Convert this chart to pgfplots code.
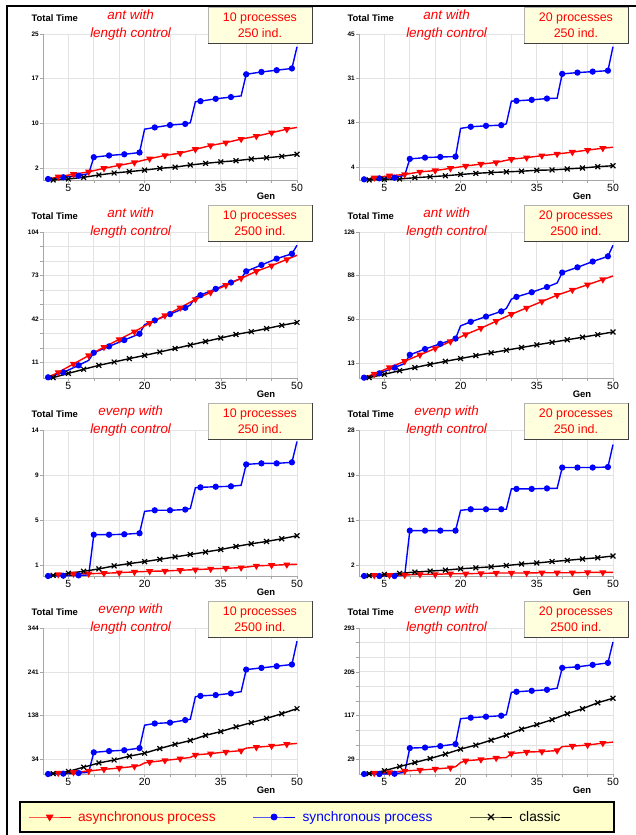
\documentclass[border=0pt]{standalone}
\usepackage{pgfplots}
\pgfplotsset{compat=1.18}
\usepackage{fontspec}
\setmainfont{Liberation Sans}
\definecolor{boxy}{RGB}{255,255,221}
\definecolor{legy}{RGB}{255,255,204}
\definecolor{pblue}{RGB}{0,0,255}
\definecolor{pred}{RGB}{255,0,0}
\pgfplotsset{
 panel/.style={
  scale only axis, width=254bp, height=146bp,
  xmin=0, xmax=50, ymin=0,
  axis lines*=left, axis line style={draw=gray!70, line width=0.8bp},
  xtick={5,20,35,50}, xticklabels={5,20,35,50},
  minor xtick={10,15,25,30,40,45},
  minor y tick num=2,
  grid=both,
  major grid style={draw=gray!22, line width=0.7bp},
  minor grid style={draw=gray!22, line width=0.7bp},
  tick align=outside, major tick length=3bp, minor tick length=3bp,
  tick style={draw=gray!70, line width=0.6bp},
  xticklabel style={font=\fontsize{10.5}{12}\selectfont, inner sep=1bp},
  yticklabel style={font=\fontsize{6.5}{7}\selectfont\bfseries, inner sep=1bp},
  clip=false,
 },
 sync/.style={pblue, line width=1.4bp, mark=*, mark size=2.4bp, mark options={solid}},
 async/.style={pred, line width=1.4bp, mark=triangle*, mark size=2.8bp, mark options={solid, rotate=180}},
 classic/.style={black, line width=1.4bp, mark=x, mark size=3.4bp, mark options={solid, line width=1.2bp}},
 syncm/.style={mark indices={1,2,3,5,6,7,8,10,11,12,15,16,17,19,20,21,22}},
 asyncm/.style={mark indices={2,3,4,5,6,7,8,9,10,11,12,13,14,15,16,17}},
 asynccm/.style={mark indices={2,3,4,5,6,7,10,11,12,14,15,16,17,19,20,21}},
 classicm/.style={mark indices={2,3,4,5,6,7,8,9,10,11,12,13,14,15,16,17,18}},
}
\newcommand{\decor}[3]{%
 \node[font=\fontsize{9.5}{11}\selectfont\bfseries, anchor=west] at (rel axis cs:-0.059,1.112) {Total Time};
 \node[font=\fontsize{13.5}{18}\selectfont\itshape, text=pred, align=center] at (rel axis cs:0.345,1.062) {#1 with\\length control};
 \node[fill=boxy, draw=gray!60, minimum width=104bp, minimum height=36bp, inner sep=0pt] (bx) at (rel axis cs:0.854,1.061) {};
 \draw[gray!50!black, line width=1bp] (bx.north east) -- (bx.south east) -- (bx.south west);
 \node[font=\fontsize{12.5}{16}\selectfont, text=pred, align=center] at (bx.center) {#2 processes\\#3 ind.};
 \node[font=\fontsize{9.5}{11}\selectfont\bfseries] at (rel axis cs:0.878,-0.11) {Gen};
}
\begin{document}
\begin{tikzpicture}
\useasboundingbox (0,0) rectangle (636bp,835bp);
\fill[white] (0,0) rectangle (636bp,835bp);

% ---------- Row 1, left: ant, 10 processes, 250 ind.
\begin{axis}[panel, at={(43bp,655bp)}, anchor=south west, ymax=25,
  ytick={2,9.667,17.333,25}, yticklabels={2,10,17,25}]
\addplot[sync, syncm] coordinates {(1,0.17)(4,0.46)(7,0.74)(9,1.1)(10,3.9)(13,4.2)(16,4.4)(19,4.7)(20,8.7)(22,9.0)(25,9.4)(28,9.6)(29,9.8)(30,13.4)(31,13.5)(34,13.9)(37,14.2)(39,14.4)(40,18.1)(43,18.5)(46,18.8)(49,19.1)(50,22.8)};
\addplot[async, asyncm] coordinates {(1,0.1)(3,0.57)(6,0.97)(9,1.4)(12,2.0)(15,2.5)(18,3.0)(21,3.65)(24,4.2)(27,4.6)(30,5.25)(33,5.9)(36,6.4)(39,7.0)(42,7.5)(45,8.1)(48,8.7)(50,9.0)};
\addplot[classic, classicm] coordinates {(1,0)(2,0)(5,0.17)(8,0.46)(11,0.86)(14,1.2)(17,1.43)(20,1.7)(23,2.0)(26,2.2)(29,2.57)(32,2.85)(35,3.1)(38,3.3)(41,3.6)(44,3.8)(47,4.05)(50,4.4)};
\decor{ant}{10}{250}
\end{axis}

% ---------- Row 1, right: ant, 20 processes, 250 ind.
\begin{axis}[panel, at={(359bp,655bp)}, anchor=south west, ymax=45,
  ytick={4,17.667,31.333,45}, yticklabels={4,18,31,45}]
\addplot[sync, syncm] coordinates {(1,0.2)(4,0.5)(7,0.7)(9,1.5)(10,6.5)(13,6.9)(16,7.1)(19,7.2)(20,15.9)(22,16.4)(25,16.7)(28,16.9)(29,17.3)(30,24.3)(31,24.4)(34,24.7)(37,25.1)(39,25.2)(40,32.7)(43,33.1)(46,33.4)(49,33.7)(50,41.1)};
\addplot[async, asyncm] coordinates {(1,0.1)(3,0.7)(6,1.3)(9,1.7)(12,2.5)(15,2.9)(18,3.6)(21,4.3)(24,4.9)(27,5.4)(30,6.4)(33,6.9)(36,7.5)(39,8.0)(42,8.6)(45,9.2)(48,9.8)(50,10.1)};
\addplot[classic, classicm] coordinates {(1,0.1)(2,0)(5,0.2)(8,0.3)(11,0.7)(14,1.0)(17,1.3)(20,1.7)(23,2.05)(26,2.3)(29,2.5)(32,2.7)(35,3.0)(38,3.1)(41,3.4)(44,3.7)(47,4.1)(50,4.4)};
\decor{ant}{20}{250}
\end{axis}

% ---------- Row 2, left: ant, 10 processes, 2500 ind.
\begin{axis}[panel, at={(43bp,457bp)}, anchor=south west, ymax=104,
  ytick={11,42,73,104}, yticklabels={11,42,73,104}]
\addplot[sync, syncm] coordinates {(1,0.5)(4,4)(7,9)(9,12.6)(10,18)(13,22.5)(16,27)(19,31.5)(20,38)(22,41)(25,45.5)(28,50)(29,52)(30,57.5)(31,59)(34,63.5)(37,68)(39,71)(40,76)(43,80.5)(46,85)(49,88.5)(50,94.5)};
\addplot[async, asyncm] coordinates {(1,0.5)(3,4)(6,10)(9,16)(12,22)(15,27.5)(18,33)(21,39)(24,44.5)(27,50)(30,56)(33,61)(36,66)(39,71)(42,76)(45,80)(48,84.5)(50,87.4)};
\addplot[classic, classicm] coordinates {(1,0)(2,0.3)(5,3.3)(8,6.2)(11,9.0)(14,11.4)(17,13.8)(20,16.1)(23,18.5)(26,21)(29,23.5)(32,26)(35,28.5)(38,31)(41,33)(44,35.2)(47,37.5)(50,39.6)};
\decor{ant}{10}{2500}
\end{axis}

% ---------- Row 2, right: ant, 20 processes, 2500 ind.
\begin{axis}[panel, at={(359bp,457bp)}, anchor=south west, ymax=126,
  ytick={13,50.667,88.333,126}, yticklabels={13,50,88,126}]
\addplot[sync, syncm] coordinates {(1,0.3)(4,4)(7,9)(9,12.5)(10,20)(13,25)(16,29.5)(19,34)(20,45)(22,48.5)(25,53)(28,57.5)(29,60)(30,68)(31,70)(34,74)(37,78.5)(39,82)(40,91)(43,95.5)(46,100.5)(49,105)(50,114.5)};
\addplot[async, asyncm] coordinates {(1,0.3)(3,3.5)(6,9)(9,14.5)(12,20)(15,25.5)(18,31.5)(21,37.5)(24,43)(27,49)(30,55)(33,60.5)(36,66)(39,71.5)(42,76)(45,80.5)(48,85)(50,88)};
\addplot[classic, classicm] coordinates {(1,0)(2,0.3)(5,3.2)(8,6.3)(11,9.0)(14,11.8)(17,14.4)(20,16.8)(23,19.3)(26,21.7)(29,24)(32,26.3)(35,28.6)(38,30.8)(41,33)(44,35.2)(47,37.4)(50,39.7)};
\decor{ant}{20}{2500}
\end{axis}

% ---------- Row 3, left: evenp, 10 processes, 250 ind.
\begin{axis}[panel, at={(43bp,259bp)}, anchor=south west, ymax=14,
  ytick={1,5.333,9.667,14}, yticklabels={1,5,9,14}]
\addplot[sync, syncm] coordinates {(1,0)(4,0.03)(7,0.06)(9,0.1)(10,3.96)(13,3.96)(16,4.0)(19,4.1)(20,6.2)(22,6.3)(25,6.3)(28,6.37)(29,6.47)(30,8.46)(31,8.5)(34,8.56)(37,8.6)(39,8.7)(40,10.7)(43,10.8)(46,10.8)(49,10.9)(50,12.9)};
\addplot[async, asyncm] coordinates {(1,0.05)(3,0.15)(6,0.22)(9,0.22)(12,0.26)(15,0.32)(18,0.39)(21,0.45)(24,0.48)(27,0.55)(30,0.61)(33,0.68)(36,0.74)(39,0.8)(42,0.97)(45,1.03)(48,1.09)(50,1.13)};
\addplot[classic, classicm] coordinates {(1,0.05)(2,0.06)(5,0.26)(8,0.45)(11,0.68)(14,0.97)(17,1.19)(20,1.38)(23,1.6)(26,1.83)(29,2.06)(32,2.3)(35,2.54)(38,2.83)(41,3.09)(44,3.31)(47,3.57)(50,3.86)};
\decor{evenp}{10}{250}
\end{axis}

% ---------- Row 3, right: evenp, 20 processes, 250 ind.
\begin{axis}[panel, at={(359bp,259bp)}, anchor=south west, ymax=28,
  ytick={2,10.667,19.333,28}, yticklabels={2,11,19,28}]
\addplot[sync, syncm] coordinates {(1,0)(4,0)(7,0)(9,0.13)(10,8.7)(13,8.7)(16,8.7)(19,8.7)(20,12.6)(22,12.8)(25,12.8)(28,12.8)(29,12.8)(30,16.7)(31,16.7)(34,16.7)(37,16.8)(39,16.8)(40,20.8)(43,20.8)(46,20.8)(49,20.9)(50,25.2)};
\addplot[async, asyncm] coordinates {(1,0)(3,0.13)(6,0.15)(9,0.19)(12,0.31)(15,0.31)(18,0.44)(21,0.44)(24,0.5)(27,0.57)(30,0.57)(33,0.57)(36,0.63)(39,0.63)(42,0.63)(45,0.69)(48,0.69)(50,0.69)};
\addplot[classic, classicm] coordinates {(1,0)(2,0.06)(5,0.3)(8,0.5)(11,0.75)(14,0.94)(17,1.13)(20,1.38)(23,1.57)(26,1.76)(29,2.0)(32,2.3)(35,2.5)(38,2.77)(41,3.0)(44,3.27)(47,3.5)(50,3.84)};
\decor{evenp}{20}{250}
\end{axis}

% ---------- Row 4, left: evenp, 10 processes, 2500 ind.
\begin{axis}[panel, at={(43bp,61bp)}, anchor=south west, ymax=344,
  ytick={34,137.333,240.667,344}, yticklabels={34,138,241,344}]
\addplot[sync, syncm] coordinates {(1,0)(4,0.8)(7,2.3)(9,4)(10,51)(13,54)(16,56)(19,61)(20,115)(22,119)(25,121)(28,127)(29,129)(30,182)(31,184)(34,186)(37,190)(39,194)(40,246)(43,250)(46,254)(49,258)(50,313)};
\addplot[async, asynccm] coordinates {(1,1.5)(3,2.5)(6,4)(9,7)(12,11)(15,14)(18,18)(19,20)(20,26)(21,28)(24,32)(27,36)(29,39)(30,45)(33,48)(36,52)(39,55)(40,61)(42,63)(45,66)(48,70)(50,72)};
\addplot[classic, classicm] coordinates {(1,0)(2,0.8)(5,6)(8,16)(11,26)(14,33)(17,42)(20,49)(23,60)(26,70)(29,79)(32,91)(35,100)(38,111)(41,121)(44,131)(47,142)(50,154)};
\decor{evenp}{10}{2500}
\end{axis}

% ---------- Row 4, right: evenp, 20 processes, 2500 ind.
\begin{axis}[panel, at={(359bp,61bp)}, anchor=south west, ymax=293,
  ytick={29,117,205,293}, yticklabels={29,117,205,293}]
\addplot[sync, syncm] coordinates {(1,0)(4,0)(7,0.5)(9,3.3)(10,52)(13,53)(16,56)(19,60)(20,111)(22,113)(25,115)(28,117)(29,119)(30,164)(31,165)(34,167)(37,169)(39,172)(40,213)(43,215)(46,219)(49,223)(50,265)};
\addplot[async, asynccm] coordinates {(1,1.3)(3,2)(6,3.3)(9,6)(12,8)(15,10)(18,12.6)(19,14.6)(20,23)(21,26.5)(24,29)(27,32)(29,33)(30,41)(33,44)(36,45)(39,47)(40,55)(42,56)(45,58)(48,62)(50,64)};
\addplot[classic, classicm] coordinates {(1,0)(2,0.7)(5,6.6)(8,15)(11,23)(14,31)(17,40)(20,50)(23,58)(26,68)(29,78)(32,90)(35,99)(38,109)(41,121)(44,131)(47,143)(50,152)};
\decor{evenp}{20}{2500}
\end{axis}

% ---------- frame and legend
\draw[black, line width=2bp] (7bp,0) -- (7bp,829bp);
\draw[black, line width=2bp] (6bp,829bp) -- (636bp,829bp);
\draw[black, line width=1.5bp, fill=legy] (20bp,3bp) rectangle (614bp,33bp);
\begin{axis}[hide axis, scale only axis, width=1bp, height=1bp, at={(28bp,18bp)}, anchor=south west,
  xmin=0, xmax=1, ymin=0, ymax=1,
  legend columns=3,
  legend image code/.code={\draw[mark repeat=2,mark phase=2,#1] plot coordinates {(0bp,0bp) (21bp,0bp) (42bp,0bp)};},
  legend style={at={(0,0)}, anchor=west, draw=none, fill=none, inner sep=0pt,
    font=\fontsize{13.8}{16}\selectfont, nodes={inner sep=0pt},
    /tikz/every odd column/.append style={column sep=7bp},
    /tikz/every even column/.append style={column sep=37bp}}]
\addlegendimage{async, line width=0.9bp, mark size=3.6bp}
\addlegendentry{\textcolor{pred}{asynchronous process}}
\addlegendimage{sync, line width=0.9bp, mark size=3bp}
\addlegendentry{\textcolor{pblue}{synchronous process}}
\addlegendimage{classic, line width=0.9bp, mark size=4.2bp}
\addlegendentry{classic}
\end{axis}
\end{tikzpicture}
\end{document}
